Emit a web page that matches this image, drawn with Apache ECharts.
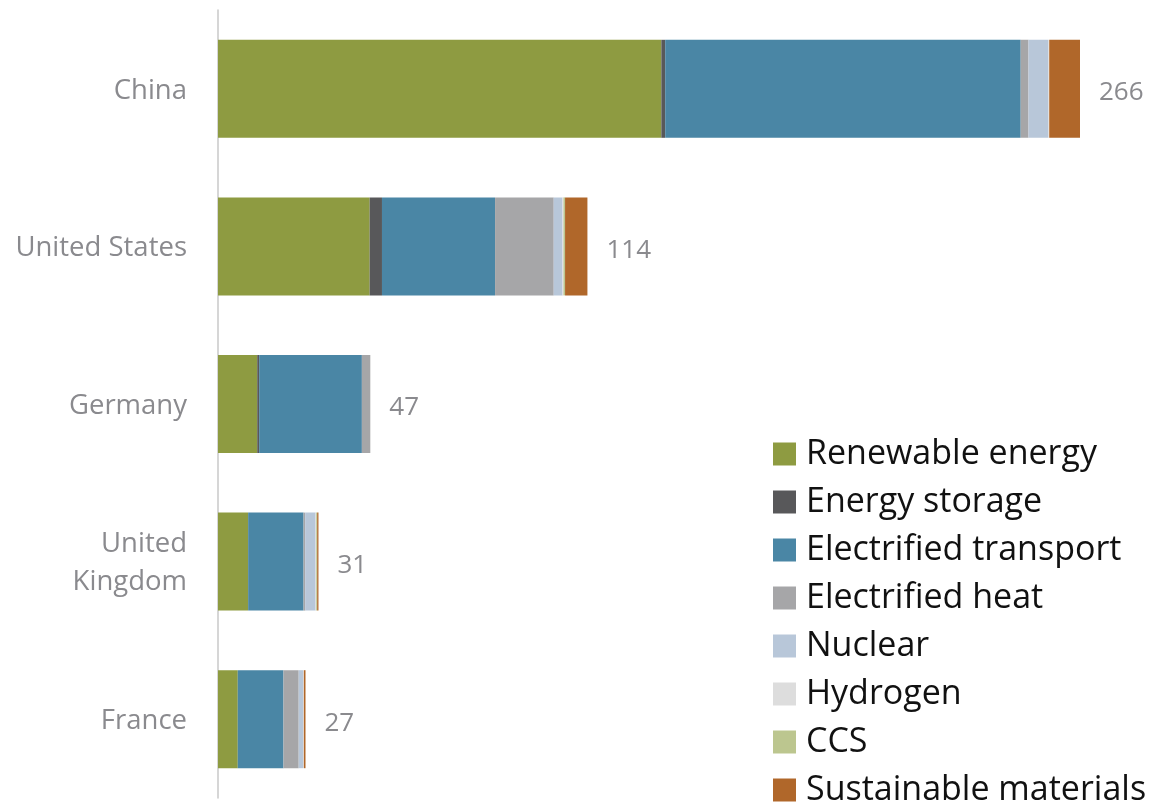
<!DOCTYPE html>
<html>
<head>
<meta charset="utf-8">
<script src="https://cdn.jsdelivr.net/npm/echarts@6/dist/echarts.min.js"></script>
<style>
  html, body { margin: 0; padding: 0; background: #ffffff; }
  #chart { width: 1157px; height: 807px; }
</style>
</head>
<body>
<div id="chart"></div>
<script>
// Countries, top to bottom
const countries = ['China', 'United States', 'Germany', 'United\nKingdom', 'France'];

// Investment by technology (per country, same order as countries)
const renewableEnergy      = [136.8, 46.8, 12.1, 9.3, 6.1];
const energyStorage        = [1.2, 3.8, 0.6, 0.0, 0.0];
const electrifiedTransport = [109.7, 34.9, 31.7, 17.1, 14.1];
const electrifiedHeat      = [2.4, 18.1, 2.6, 0.5, 4.7];
const nuclear              = [6.1, 2.7, 0.0, 3.2, 1.4];
const hydrogen             = [0.3, 0.3, 0.0, 0.2, 0.2];
const ccs                  = [0.0, 0.5, 0.0, 0.3, 0.0];
const sustainableMaterials = [9.5, 6.9, 0.0, 0.4, 0.5];

const seriesDefs = [
  { name: 'Renewable energy', data: renewableEnergy, color: '#8E9B41' },
  { name: 'Energy storage', data: energyStorage, color: '#58585A' },
  { name: 'Electrified transport', data: electrifiedTransport, color: '#4A86A5' },
  { name: 'Electrified heat', data: electrifiedHeat, color: '#A6A6A8' },
  { name: 'Nuclear', data: nuclear, color: '#B8C7D9' },
  { name: 'Hydrogen', data: hydrogen, color: '#DDDDDD' },
  { name: 'CCS', data: ccs, color: '#BCC68F' },
  { name: 'Sustainable materials', data: sustainableMaterials, color: '#B0672A' }
];

// Totals per country from the stacked parts
const totals = countries.map((_, i) =>
  seriesDefs.reduce((s, d) => s + d.data[i], 0));

const FONT = '"Open Sans", "Noto Sans", sans-serif';

const series = seriesDefs.map(d => ({
  name: d.name,
  type: 'bar',
  stack: 'total',
  barWidth: 98,
  data: d.data,
  itemStyle: { color: d.color },
  emphasis: { disabled: true }
}));

// Invisible overlay carrying the total labels
series.push({
  name: 'Total',
  type: 'bar',
  barWidth: 98,
  barGap: '-100%',
  data: totals,
  itemStyle: { color: 'rgba(0,0,0,0)' },
  silent: true,
  label: {
    show: true,
    position: 'right',
    distance: 19,
    offset: [0, 4],
    formatter: p => Math.round(p.value),
    color: '#8A8A8E',
    fontSize: 26,
    fontFamily: FONT
  },
  z: 1
});

const chart = echarts.init(document.getElementById('chart'), null, { renderer: 'canvas' });
chart.setOption({
  animation: false,
  grid: { left: 218, right: 77, top: 10, bottom: 9, containLabel: false },
  xAxis: {
    type: 'value',
    min: 0,
    max: 266,
    show: false
  },
  yAxis: {
    type: 'category',
    inverse: true,
    data: countries,
    axisLine: { show: true, lineStyle: { color: '#C8C8C8', width: 1.5 } },
    axisTick: { show: false },
    axisLabel: {
      margin: 31,
      align: 'right',
      formatter: v => v.split('\n').map(s => '{c|' + s + '}').join('\n'),
      rich: {
        c: {
          color: '#8A8A8E',
          fontSize: 27.5,
          lineHeight: 38,
          fontFamily: FONT,
          align: 'right',
          padding: [4, 0, 0, 0]
        }
      }
    }
  },
  legend: {
    orient: 'vertical',
    left: 773,
    top: 437,
    padding: 0,
    itemWidth: 23,
    itemHeight: 23,
    itemGap: 14,
    icon: 'rect',
    data: seriesDefs.map(d => d.name),
    selectedMode: false,
    formatter: name => '{t|' + name + '}',
    textStyle: {
      color: '#111111',
      fontSize: 34,
      lineHeight: 23,
      fontFamily: FONT,
      rich: {
        t: {
          color: '#111111',
          fontSize: 34,
          lineHeight: 34,
          fontFamily: FONT,
          padding: [0, 0, 0, 5]
        }
      }
    }
  },
  series: series
});
</script>
</body>
</html>
